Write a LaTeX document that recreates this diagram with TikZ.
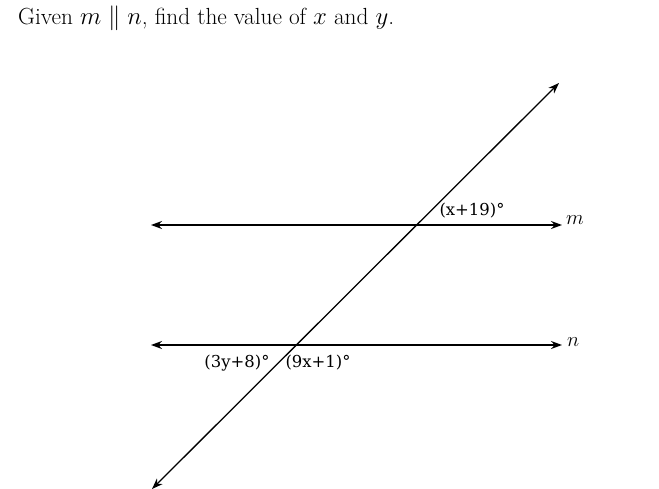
\documentclass[tikz,border=0pt]{standalone}
\usepackage{fontspec}
\newfontfamily\anglefont{DejaVu Serif}
\usetikzlibrary{arrows.meta,positioning}

\begin{document}
\begin{tikzpicture}[
    x=1bp,y=-1bp,
    line/.style={draw,line width=1.3pt,{Stealth[length=11pt,width=8pt]}-{Stealth[length=11pt,width=8pt]}},
    ang/.style={font=\anglefont\fontsize{16.5}{19}\selectfont,inner sep=0pt},
    linename/.style={font=\fontsize{22}{24}\selectfont,inner sep=0pt},
    >=Stealth]
    \useasboundingbox (0,0) rectangle (659,489);
    \node[anchor=base west,inner sep=0pt,font=\fontsize{23.4}{28}\selectfont] (title) at (18,25)
      {Given $m \parallel n$, find the value of $x$ and $y$.};

    \coordinate (mL) at (151,225);
    \coordinate (mR) at (562,225);
    \coordinate (nL) at (151,345);
    \coordinate (nR) at (562,345);
    \coordinate (tB) at (152,489);
    \coordinate (tT) at (559,83);

    \draw[line] (mL) -- (mR);
    \draw[line] (nL) -- (nR);
    \draw[line] (tB) -- (tT);

    \node[linename,anchor=base west] (m) at (566,225) {$m$};
    \node[linename,anchor=base west] (n) at (567,346) {$n$};
    \node[ang] (a1) at (472,211) {(x+19)°};
    \node[ang] (a2) at (237,363) {(3y+8)°};
    \node[ang] (a3) at (318,363) {(9x+1)°};
  \end{tikzpicture}
\end{document}
